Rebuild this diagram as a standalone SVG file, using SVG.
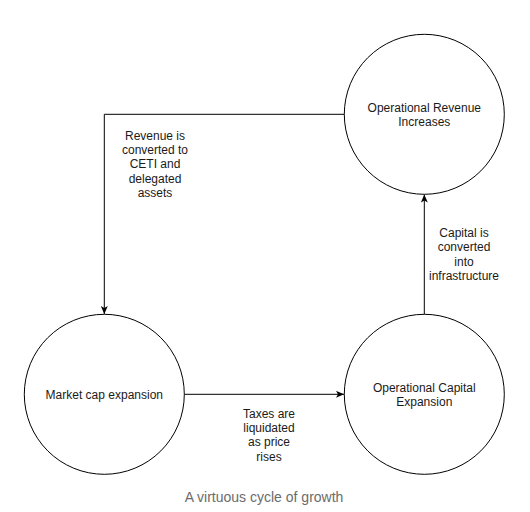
<svg xmlns="http://www.w3.org/2000/svg" width="530" height="512" viewBox="0 0 530 512">
  <style>
    .node { fill: #ffffff; stroke: #000000; stroke-width: 1; }
    .edge { fill: none; stroke: #000000; stroke-width: 1; }
    .lbl { font-family: "Liberation Sans", Arial, sans-serif; font-size: 12px; fill: #1a1a1a; text-anchor: middle; }
    .cap { font-family: "Liberation Sans", Arial, sans-serif; font-size: 14px; fill: #6b6b6b; text-anchor: middle; }
  </style>
  <defs>
    <marker id="arrow" markerUnits="userSpaceOnUse" markerWidth="10" markerHeight="10" refX="8" refY="3.5" orient="auto">
      <path d="M0,0 L8,3.5 L0,7 L2,3.5 z" fill="#000000"/>
    </marker>
  </defs>
  <rect width="530" height="512" fill="#ffffff"/>

  <g id="connectors">
    <g id="edge-revenue">
      <path class="edge" d="M344.3,114.3 H104.3 V314" marker-end="url(#arrow)"/>
      <text class="lbl" x="155" y="139.5">Revenue is</text>
      <text class="lbl" x="155" y="153.9">converted to</text>
      <text class="lbl" x="155" y="168.3">CETI and</text>
      <text class="lbl" x="155" y="182.7">delegated</text>
      <text class="lbl" x="155" y="197.1">assets</text>
    </g>
    <g id="edge-taxes">
      <path class="edge" d="M184.3,394.3 H344" marker-end="url(#arrow)"/>
      <text class="lbl" x="269" y="417.6">Taxes are</text>
      <text class="lbl" x="269" y="431.9">liquidated</text>
      <text class="lbl" x="269" y="446.2">as price</text>
      <text class="lbl" x="269" y="460.5">rises</text>
    </g>
    <g id="edge-capital">
      <path class="edge" d="M424.3,314.3 V194.6" marker-end="url(#arrow)"/>
      <text class="lbl" x="464" y="237">Capital is</text>
      <text class="lbl" x="464" y="251.3">converted</text>
      <text class="lbl" x="464" y="265.6">into</text>
      <text class="lbl" x="464" y="279.9">infrastructure</text>
    </g>
  </g>

  <g id="node-revenue">
    <circle class="node" cx="424.3" cy="114.3" r="80"/>
    <text class="lbl" x="424.3" y="111.6">Operational Revenue</text>
    <text class="lbl" x="424.3" y="125.5">Increases</text>
  </g>
  <g id="node-market">
    <circle class="node" cx="104.3" cy="394.3" r="80"/>
    <text class="lbl" x="104.3" y="398.5">Market cap expansion</text>
  </g>
  <g id="node-capital">
    <circle class="node" cx="424.3" cy="394.3" r="80"/>
    <text class="lbl" x="424.3" y="391.6">Operational Capital</text>
    <text class="lbl" x="424.3" y="405.5">Expansion</text>
  </g>

  <text class="cap" x="264" y="502">A virtuous cycle of growth</text>
</svg>
